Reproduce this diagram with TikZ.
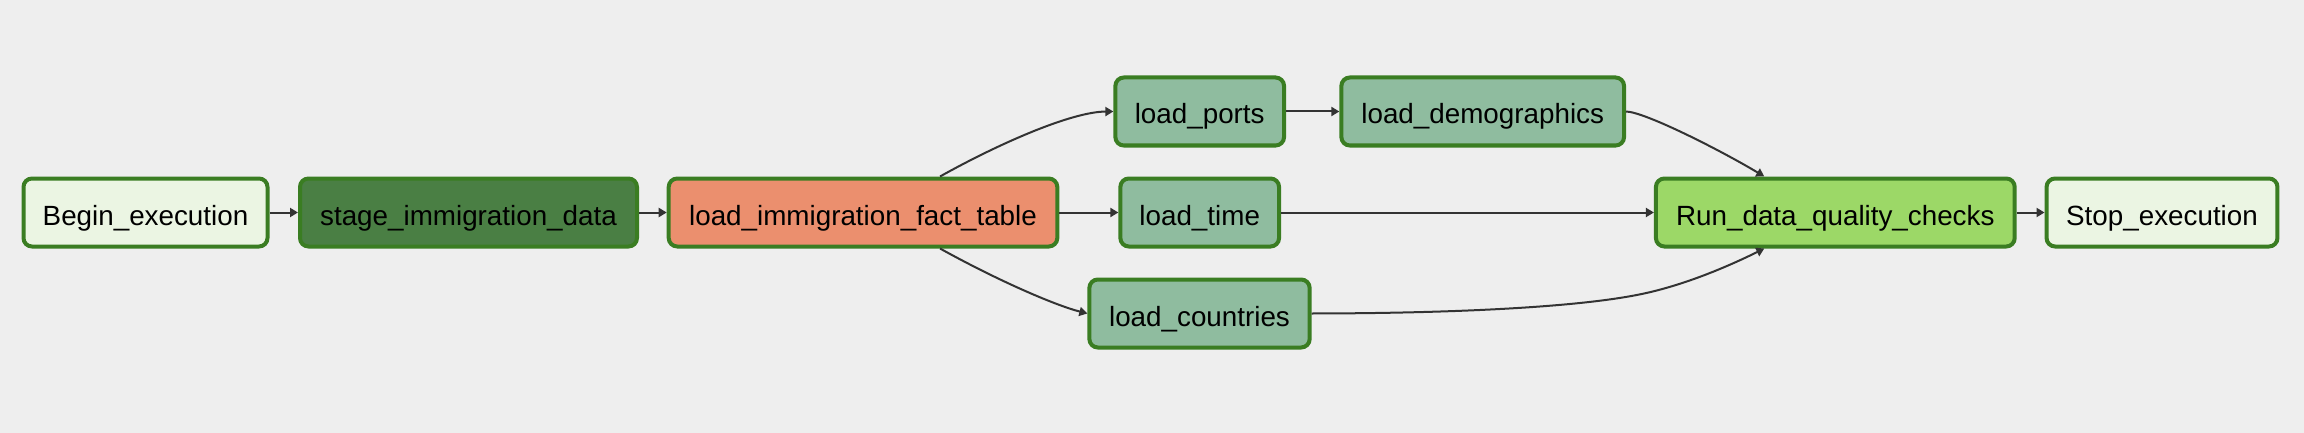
\documentclass[tikz,border=0pt]{standalone}
\usepackage{fontspec}
\setmainfont{Liberation Sans}
\usetikzlibrary{arrows.meta}
\definecolor{bgc}{RGB}{238,238,238}
\definecolor{bord}{RGB}{58,125,34}
\definecolor{dummyc}{RGB}{235,245,227}
\definecolor{stagec}{RGB}{74,127,68}
\definecolor{factc}{RGB}{235,143,110}
\definecolor{dimc}{RGB}{143,188,159}
\definecolor{dqc}{RGB}{156,216,103}
\definecolor{edgec}{RGB}{51,51,51}
\tikzset{
  task/.style={draw=bord, line width=4pt, rounded corners=8.5pt, inner sep=0pt,
    minimum height=68pt, text height=25pt, text depth=0pt,
    font=\fontsize{27.8pt}{33pt}\selectfont, text=black},
  edge/.style={draw=edgec, line width=2pt, -{Triangle[length=8pt,width=9pt]}}
}
\begin{document}
\begin{tikzpicture}[x=1pt,y=-1pt]
\fill[bgc] (0,0) rectangle (2304,433);
\useasboundingbox (0,0) rectangle (2304,433);
\node[task, fill=dummyc, minimum width=244pt] (begin) at (145.5,212.5) {Begin\_execution};
\node[task, fill=stagec, minimum width=337pt] (stage) at (468.5,212.5) {stage\_immigration\_data};
\node[task, fill=factc, minimum width=388.6pt] (fact) at (863,212.5) {load\_immigration\_fact\_table};
\node[task, fill=dimc, minimum width=168.7pt] (ports) at (1199.7,111.5) {load\_ports};
\node[task, fill=dimc, minimum width=158.7pt] (time) at (1199.7,212.5) {load\_time};
\node[task, fill=dimc, minimum width=220.3pt] (countries) at (1199.5,313.5) {load\_countries};
\node[task, fill=dimc, minimum width=282.7pt] (demo) at (1482.7,111.5) {load\_demographics};
\node[task, fill=dqc, minimum width=358.8pt] (run) at (1835.3,212.5) {Run\_data\_quality\_checks};
\node[task, fill=dummyc, minimum width=230.9pt] (stop) at (2162,212.5) {Stop\_execution};

\draw[edge] (begin.east) -- (stage.west);
\draw[edge] (stage.east) -- (fact.west);
\draw[edge] (fact.east) -- (time.west);
\draw[edge] ([xshift=77pt]fact.north) .. controls (1000,143) and (1072,111.7) .. (ports.west);
\draw[edge] ([xshift=77pt]fact.south) .. controls (1000,281.7) and (1056,305.5) .. (countries.west);
\draw[edge] (ports.east) -- (demo.west);
\draw[edge] (demo.east) .. controls (1645,112) and (1720,150) .. ([xshift=-71pt]run.north);
\draw[edge] (time.east) -- (run.west);
\draw[edge] (countries.east) .. controls (1450,313.3) and (1580,307.6) .. (1645,293.3)
   .. controls (1690,283.4) and (1734,263.5) .. ([xshift=-71pt]run.south);
\draw[edge] (run.east) -- (stop.west);
\end{tikzpicture}
\end{document}
